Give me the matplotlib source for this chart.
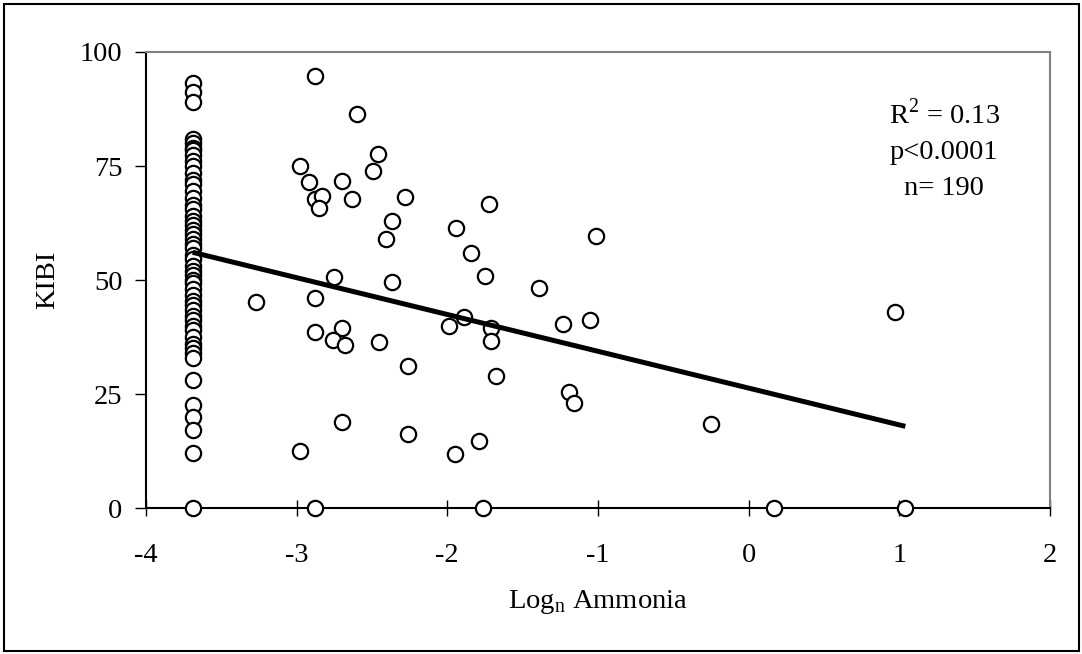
import numpy as np
import matplotlib
matplotlib.use("Agg")
import matplotlib.pyplot as plt
from matplotlib.patches import Rectangle

plt.rcParams['font.family'] = ['Liberation Serif', 'DejaVu Serif']
plt.rcParams['mathtext.fontset'] = 'custom'
plt.rcParams['mathtext.rm'] = 'Liberation Serif'
plt.rcParams['axes.unicode_minus'] = False

# column of samples at the detection limit (log ammonia ~ -3.69)
colX = -3.69
colY = [93.2, 91.2, 89.0, 81, 80, 79, 78.5, 77.5, 76, 75, 73.5, 72, 71, 69.5,
        68, 66.5, 65.5, 64, 63, 62, 61, 60, 59, 58, 57, 55.5, 54.5, 53, 52,
        51, 50, 49.3, 48, 46.7, 45.5, 44.5, 43.4, 42, 41.2, 40, 39, 37.5, 36,
        35.1, 34, 32.9, 28.1, 22.6, 20, 17.1, 12.1, 0]

# remaining scattered samples
ammonia = [-2.88, -2.60, -2.46, -2.49, -2.98, -2.92, -2.70, -2.88, -2.83,
           -2.85, -2.63, -2.28, -1.72, -2.37, -1.94, -2.41, -1.84, -1.75,
           -2.75, -2.37, -3.27, -2.88, -2.88, -2.70, -2.76, -2.68, -2.45,
           -2.26, -1.99, -1.89, -1.71, -1.71, -1.68, -2.70, -2.98, -2.26,
           -1.95, -1.79, -2.88, -1.76, -1.39, -1.01, -1.05, -1.23, -1.19,
           -1.16, -0.25, 0.17, 0.97, 1.04]
kibi = [94.8, 86.4, 77.7, 73.9, 74.9, 71.4, 71.7, 67.7, 68.4, 65.9, 67.7,
        68.2, 66.7, 63.0, 61.5, 58.9, 56.0, 50.9, 50.7, 49.6, 45.1, 46.0,
        38.5, 39.5, 36.8, 35.7, 36.3, 31.1, 40.0, 41.8, 39.5, 36.7, 29.0,
        18.8, 12.6, 16.2, 11.9, 14.8, 0, 0, 48.3, 59.6, 41.2, 40.4, 25.5,
        23.1, 18.4, 0, 43.0, 0]

# fitted trend line
slope = -8.07
intercept = 26.3
fitRange = [-3.69, 1.04]

x = [colX] * len(colY) + ammonia
y = colY + kibi

fig = plt.figure(figsize=(10.82, 6.54), dpi=100)
ax = fig.add_axes([0.1349, 0.2232, 0.8355, 0.6973])

ax.scatter(x, y, s=11**2, facecolor="white", edgecolor="black",
           linewidth=1.6, zorder=3, clip_on=False)
fx = np.array(fitRange)
ax.plot(fx, slope*fx + intercept, color="black", lw=3.6, zorder=4,
        solid_capstyle="butt")

ax.set_xlim(-4, 2)
ax.set_ylim(0, 100)
ax.set_xticks(range(-4, 3))
ax.set_yticks([0, 25, 50, 75, 100])
ax.tick_params(axis="x", direction="inout", length=12, width=1, labelsize=20.5, pad=19)
ax.tick_params(axis="y", direction="out", length=8, width=1, labelsize=20.5, pad=9)
for s in ["left", "bottom"]:
    ax.spines[s].set_color("black")
    ax.spines[s].set_linewidth(1.5)
for s in ["top", "right"]:
    ax.spines[s].set_color("#808080")
    ax.spines[s].set_linewidth(1.5)

ax.set_xlabel("Log$_\\mathregular{n}$ Ammonia", fontsize=20.5, labelpad=14.5)
ax.set_ylabel("KIBI", fontsize=20.5, labelpad=14)

ax.text(0.883, 0.785, "R$^\\mathregular{2}$ = 0.13\np<0.0001\nn= 190",
        transform=ax.transAxes, ha="center", va="center", fontsize=20.5,
        linespacing=1.54)

fig.patches.append(Rectangle((0.004, 0.004), 0.993, 0.99, transform=fig.transFigure,
                             fill=False, edgecolor="black", linewidth=1.5))

fig.savefig("out.png", dpi=100)
